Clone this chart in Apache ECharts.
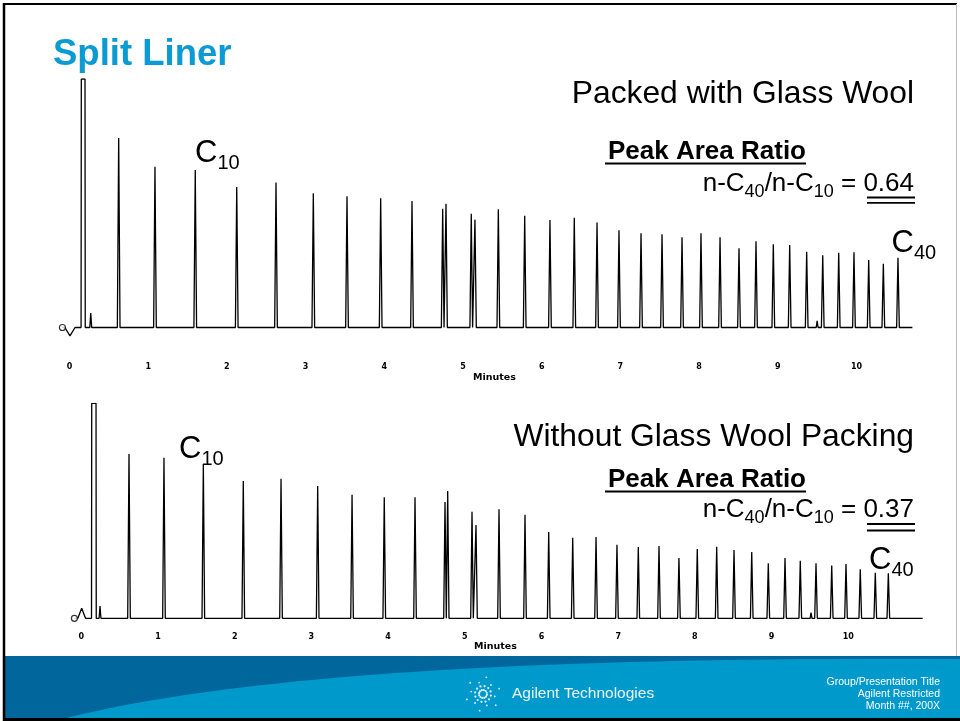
<!DOCTYPE html>
<html>
<head>
<meta charset="utf-8">
<title>Split Liner</title>
<script src="https://cdn.jsdelivr.net/npm/echarts@6/dist/echarts.min.js"></script>
<style>
  html, body { margin: 0; padding: 0; background: #fff; }
  #chart { width: 960px; height: 721px; }
</style>
</head>
<body>
<div id="chart"></div>
<script>
// Axis tick labels (minutes)
const minuteTicks = [0, 1, 2, 3, 4, 5, 6, 7, 8, 9, 10];

// Detector full scale (solvent front is off scale and flat-topped)
const fullScale = 100;

// --- Packed with glass wool ---
const packedPeakTimes = [0.625, 1.086, 1.598, 2.125, 2.624, 3.098, 3.526, 3.954, 4.352,
  4.742, 4.784, 5.105, 5.152, 5.449, 5.784, 6.105, 6.414, 6.703, 6.982, 7.262, 7.529,
  7.783, 8.024, 8.266, 8.507, 8.723, 8.943, 9.151, 9.367, 9.571, 9.774, 9.968, 10.155,
  10.341, 10.527];
const packedPeakHeights = [76.3, 64.7, 63.4, 56.5, 58.3, 54.0, 52.8, 52.0, 50.9,
  47.8, 49.8, 45.8, 43.4, 47.6, 45.0, 43.3, 44.2, 42.2, 39.1, 37.9, 37.5,
  36.3, 37.9, 36.3, 31.9, 34.7, 33.5, 33.2, 30.5, 29.1, 30.1, 30.3, 27.2,
  25.6, 28.1];
const packedMinorTimes = [0.006, 0.27, 9.50];
const packedMinorHeights = [-3.4, 5.8, 2.7];
const packedMinorHalfWidths = [0.064, 0.012, 0.012];
const packedSolvent = [0.150, 0.197];
const packedRange = [-0.09, 10.71];

// --- Without glass wool packing ---
const unpackedPeakTimes = [0.622, 1.078, 1.591, 2.112, 2.604, 3.082, 3.530, 3.950, 4.351,
  4.742, 4.777, 5.094, 5.146, 5.446, 5.785, 6.094, 6.407, 6.711, 6.984, 7.262, 7.532,
  7.792, 8.031, 8.284, 8.510, 8.741, 8.957, 9.175, 9.374, 9.579, 9.784, 9.970, 10.156,
  10.352, 10.522];
const unpackedPeakHeights = [76.4, 74.7, 71.8, 63.9, 64.9, 61.5, 57.5, 56.3, 56.3,
  54.1, 59.2, 49.6, 43.4, 50.7, 48.2, 40.1, 37.5, 37.8, 34.2, 33.2, 33.6,
  28.0, 32.2, 33.3, 31.8, 30.8, 25.6, 28.0, 26.8, 25.6, 24.5, 25.3, 22.8,
  21.2, 20.9];
const unpackedMinorTimes = [0.005, 0.244, 9.514];
const unpackedMinorHeights = [4.7, 5.7, 2.6];
const unpackedMinorHalfWidths = [0.05, 0.012, 0.012];
const unpackedSolvent = [0.136, 0.192];
const unpackedRange = [-0.09, 10.97];

const PEAK_HALF_WIDTH = 0.017;

// Assemble a detector trace: flat baseline, a spike per peak, flat-topped solvent front
function buildTrace(range, solvent, times, heights, minorT, minorH, minorW) {
  const pts = [[range[0], 0], [range[1], 0]];
  pts.push([solvent[0] - 0.003, 0], [solvent[0], fullScale],
           [solvent[1], fullScale], [solvent[1] + 0.003, 0]);
  times.forEach((t, i) => {
    pts.push([t - PEAK_HALF_WIDTH, 0], [t, heights[i]], [t + PEAK_HALF_WIDTH, 0]);
  });
  minorT.forEach((t, i) => {
    pts.push([t - minorW[i], 0], [t, minorH[i]], [t + minorW[i], 0]);
  });
  pts.sort((a, b) => a[0] - b[0]);
  return pts;
}

const packedTrace = buildTrace(packedRange, packedSolvent, packedPeakTimes, packedPeakHeights,
  packedMinorTimes, packedMinorHeights, packedMinorHalfWidths);
const unpackedTrace = buildTrace(unpackedRange, unpackedSolvent, unpackedPeakTimes, unpackedPeakHeights,
  unpackedMinorTimes, unpackedMinorHeights, unpackedMinorHalfWidths);

const FONT = "'Liberation Sans', Arial, Helvetica, sans-serif";
const SMALL_FONT = "'DejaVu Sans', sans-serif";

function xAxisFor(gridIndex, labelMargin, nameGap) {
  return {
    type: 'value', gridIndex: gridIndex, min: -0.2, max: 11,
    axisLine: { show: false }, axisTick: { show: false }, splitLine: { show: false },
    axisLabel: {
      customValues: minuteTicks, margin: labelMargin,
      fontSize: 8, fontWeight: 'bold', color: '#000', fontFamily: SMALL_FONT
    },
    name: 'Minutes', nameLocation: 'middle', nameGap: nameGap,
    nameTextStyle: { fontSize: 9.5, fontWeight: 'bold', color: '#000', fontFamily: SMALL_FONT }
  };
}

function traceSeries(idx, data) {
  return {
    type: 'line', xAxisIndex: idx, yAxisIndex: idx, data: data,
    showSymbol: false, symbol: 'none', silent: true,
    lineStyle: { color: '#000', width: 1.3 }
  };
}

function startMarker(idx, range) {
  return {
    type: 'scatter', xAxisIndex: idx, yAxisIndex: idx, silent: true, z: 5,
    data: [[range[0], 0]], symbol: 'circle', symbolSize: 6,
    itemStyle: { color: '#fff', borderColor: '#000', borderWidth: 1.2 }
  };
}

// Rich-text label with subscript, e.g. C{10}
function subLabel(x, y, main, sub, mainSize, subSize, drop) {
  return {
    type: 'text', x: x, y: y, silent: true,
    style: {
      text: '{m|' + main + '}{s|' + sub + '}',
      align: 'left', verticalAlign: 'middle', textAlign: 'left', textVerticalAlign: 'middle',
      rich: {
        m: { fontSize: mainSize, fontFamily: FONT, fill: '#000', color: '#000' },
        s: { fontSize: subSize, fontFamily: FONT, fill: '#000', color: '#000', padding: [drop, 0, 0, 0] }
      }
    }
  };
}

function ratioLabel(xRight, y, value) {
  return {
    type: 'text', x: xRight, y: y, silent: true,
    style: {
      text: '{m|n-C}{s|40}{m|/n-C}{s|10}{m| = ' + value + '}',
      align: 'right', verticalAlign: 'middle', textAlign: 'right', textVerticalAlign: 'middle',
      rich: {
        m: { fontSize: 26, fontFamily: FONT, fill: '#000', color: '#000' },
        s: { fontSize: 18, fontFamily: FONT, fill: '#000', color: '#000', padding: [17, 0, 0, 0] }
      }
    }
  };
}

function plainText(x, y, text, size, weight, color, align) {
  return {
    type: 'text', x: x, y: y, silent: true,
    style: {
      text: text, fill: color, font: weight + ' ' + size + 'px ' + FONT,
      align: align, verticalAlign: 'middle', textAlign: align, textVerticalAlign: 'middle'
    }
  };
}

function hLine(x1, x2, y, w, color) {
  return { type: 'line', silent: true, shape: { x1: x1, y1: y, x2: x2, y2: y },
           style: { stroke: color || '#000', lineWidth: w } };
}

// Footer swoosh: light band under a gentle curve
function swooshPoints() {
  const p0 = [55, 721], p1 = [300, 655], p2 = [960, 659];
  const pts = [];
  for (let i = 0; i <= 40; i++) {
    const t = i / 40, u = 1 - t;
    pts.push([u * u * p0[0] + 2 * u * t * p1[0] + t * t * p2[0],
              u * u * p0[1] + 2 * u * t * p1[1] + t * t * p2[1]]);
  }
  pts.push([960, 721]);
  return pts;
}

// Spark logo made of small dots
function sparkDots(cx, cy) {
  const els = [];
  for (let k = 0; k < 12; k++) {
    const a = k * Math.PI / 6 + 0.2;
    [4, 8, 12, 17].forEach((r, j) => {
      if ((k + j) % 2 === 0 || j < 2) {
        els.push({ type: 'circle', silent: true,
          shape: { cx: cx + r * Math.cos(a), cy: cy + r * Math.sin(a), r: j < 2 ? 1.1 : 0.9 },
          style: { fill: '#e6f4fb' } });
      }
    });
  }
  return els;
}

const graphics = [
  // slide footer
  { type: 'rect', silent: true, shape: { x: 4, y: 656, width: 956, height: 65 }, style: { fill: '#00669b' } },
  { type: 'polygon', silent: true, shape: { points: swooshPoints() }, style: { fill: '#0099cc' } },
  ...sparkDots(483, 694),
  plainText(512, 694, 'Agilent Technologies', 15.5, 'normal', '#eaf6fc', 'left'),
  plainText(940, 682, 'Group/Presentation Title', 10.5, 'normal', '#fff', 'right'),
  plainText(940, 694, 'Agilent Restricted', 10.5, 'normal', '#fff', 'right'),
  plainText(940, 706, 'Month ##, 200X', 10.5, 'normal', '#fff', 'right'),
  // slide frame
  hLine(3, 957, 4, 2, '#000'),
  hLine(3, 960, 719.5, 3, '#000'),
  { type: 'line', silent: true, shape: { x1: 4, y1: 3, x2: 4, y2: 721 }, style: { stroke: '#000', lineWidth: 2.5 } },
  { type: 'line', silent: true, shape: { x1: 956.5, y1: 4, x2: 956.5, y2: 656 }, style: { stroke: '#bbb', lineWidth: 1 } },
  // titles
  plainText(53, 55, 'Split Liner', 36.5, 'bold', '#0a9bd2', 'left'),
  plainText(914, 94, 'Packed with Glass Wool', 31.8, 'normal', '#000', 'right'),
  plainText(914, 437, 'Without Glass Wool Packing', 31.8, 'normal', '#000', 'right'),
  // peak area ratio, upper
  plainText(806, 152, 'Peak Area Ratio', 26, 'bold', '#000', 'right'),
  hLine(605, 806, 163.5, 2),
  ratioLabel(914, 183.5, '0.64'),
  hLine(867, 915, 197.5, 1.8),
  hLine(867, 915, 202.8, 1.8),
  // peak area ratio, lower
  plainText(806, 479.5, 'Peak Area Ratio', 26, 'bold', '#000', 'right'),
  hLine(605, 806, 491.5, 2),
  ratioLabel(914, 510, '0.37'),
  hLine(867, 915, 524, 1.8),
  hLine(867, 915, 530.5, 1.8),
  // carbon number labels
  subLabel(195, 153, 'C', '10', 31, 20, 20),
  subLabel(891.5, 243.5, 'C', '40', 31, 20, 20),
  subLabel(179, 449, 'C', '10', 31, 20, 20),
  subLabel(869, 560, 'C', '40', 31, 20, 20)
];

const chart = echarts.init(document.getElementById('chart'), null, { renderer: 'canvas' });
chart.setOption({
  animation: false,
  backgroundColor: '#fff',
  grid: [
    { left: 53.76, top: 79, width: 881.44, height: 260.9 },
    { left: 65.96, top: 403.3, width: 859.04, height: 225.75 }
  ],
  xAxis: [xAxisFor(0, 23.5, 30), xAxisFor(1, 3.5, 10)],
  yAxis: [
    { type: 'value', gridIndex: 0, min: -5, max: 100, show: false },
    { type: 'value', gridIndex: 1, min: -5, max: 100, show: false }
  ],
  series: [
    traceSeries(0, packedTrace), startMarker(0, packedRange),
    traceSeries(1, unpackedTrace), startMarker(1, unpackedRange)
  ],
  graphic: { elements: graphics }
});
</script>
</body>
</html>
